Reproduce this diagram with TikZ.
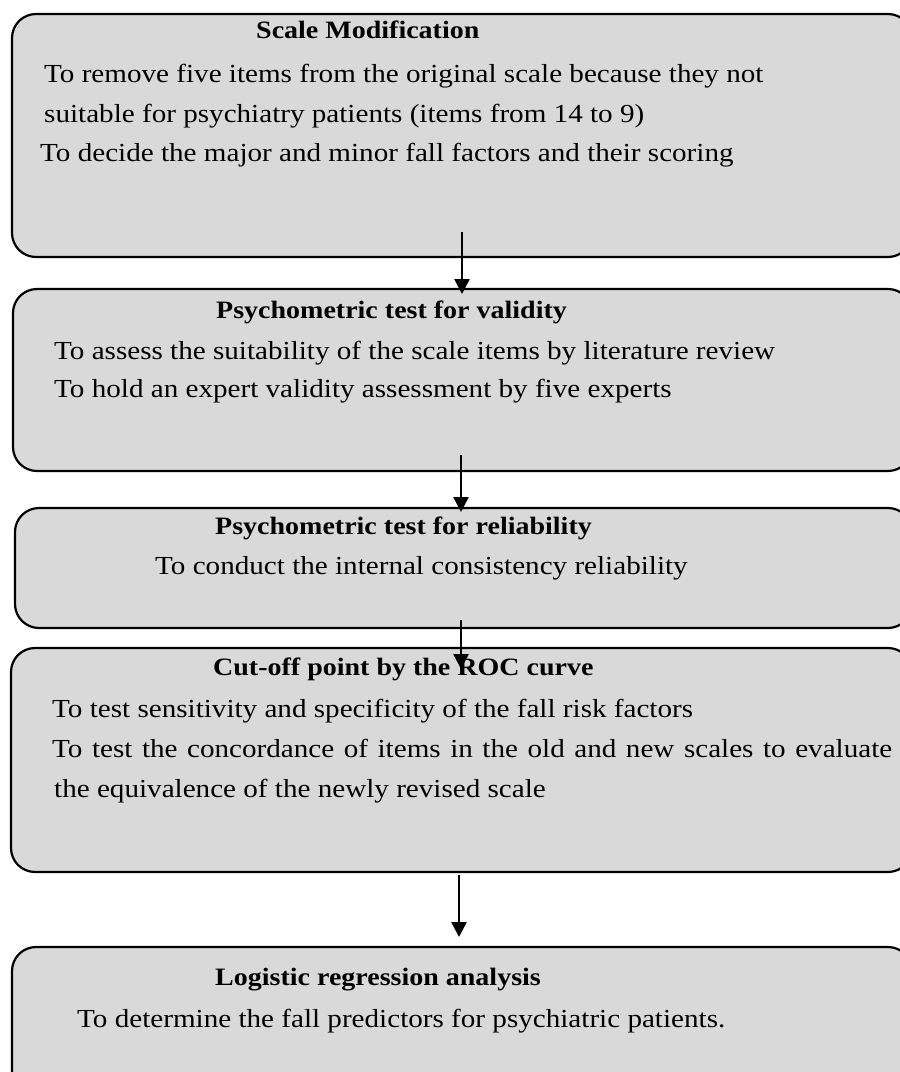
\documentclass[tikz,border=0pt]{standalone}
\usepackage{fontspec}
\setmainfont[FakeStretch=1.12]{Liberation Serif}
\usetikzlibrary{arrows.meta}
\tikzset{
  stagebox/.style={draw=black, line width=2.2pt, fill=gray!30, rounded corners=24pt},
  txt/.style={anchor=base west, inner sep=0pt, font=\fontsize{26}{30}\selectfont},
  ttl/.style={txt, font=\fontsize{25}{30}\selectfont\bfseries},
  flow/.style={line width=2.6pt, -{Triangle[length=15pt,width=15pt]}}
}
\begin{document}
\begin{tikzpicture}[x=1pt,y=-1pt]
\useasboundingbox (0,0) rectangle (900,1072);
\begin{scope}
\clip (0,0) rectangle (900,1072);
\draw[stagebox] (12,14) rectangle (912,257);
\draw[stagebox] (13,289) rectangle (912,471);
\draw[stagebox] (15,508) rectangle (912,628);
\draw[stagebox] (11,648) rectangle (912,872);
\draw[stagebox] (12,947) rectangle (912,1100);
\end{scope}
% box 1
\node[ttl] (t1) at (256,38) {Scale Modification};
\node[txt] (l11) at (44,82) {To remove five items from the original scale because they not};
\node[txt] (l12) at (44,122) {suitable for psychiatry patients (items from 14 to 9)};
\node[txt] (l13) at (40,161) {To decide the major and minor fall factors and their scoring};
% box 2
\node[ttl] (t2) at (216,318) {Psychometric test for validity};
\node[txt] (l21) at (54,359) {To assess the suitability of the scale items by literature review};
\node[txt] (l22) at (54,397) {To hold an expert validity assessment by five experts};
% box 3
\node[ttl] (t3) at (215,534) {Psychometric test for reliability};
\node[txt] (l31) at (155,574) {To conduct the internal consistency reliability};
% box 4
\node[ttl] (t4) at (213,675) {Cut-off point by the ROC curve};
\node[txt] (l41) at (52,717) {To test sensitivity and specificity of the fall risk factors};
\node[txt] (l42) at (52,757) {\makebox[840pt][s]{To test the concordance of items in the old and new scales to evaluate}};
\node[txt] (l43) at (54,797) {the equivalence of the newly revised scale};
% box 5
\node[ttl] (t5) at (215,985) {Logistic regression analysis};
\node[txt] (l51) at (77,1027) {To determine the fall predictors for psychiatric patients.};
% arrows
\coordinate (a1s) at (462,232); \coordinate (a1e) at (462,294);
\coordinate (a2s) at (461,455); \coordinate (a2e) at (461,512);
\coordinate (a3s) at (461,620); \coordinate (a3e) at (461,669);
\coordinate (a4s) at (459,875); \coordinate (a4e) at (459,937);
\draw[flow] (a1s) -- (a1e);
\draw[flow] (a2s) -- (a2e);
\draw[flow] (a3s) -- (a3e);
\draw[flow] (a4s) -- (a4e);
\end{tikzpicture}
\end{document}
